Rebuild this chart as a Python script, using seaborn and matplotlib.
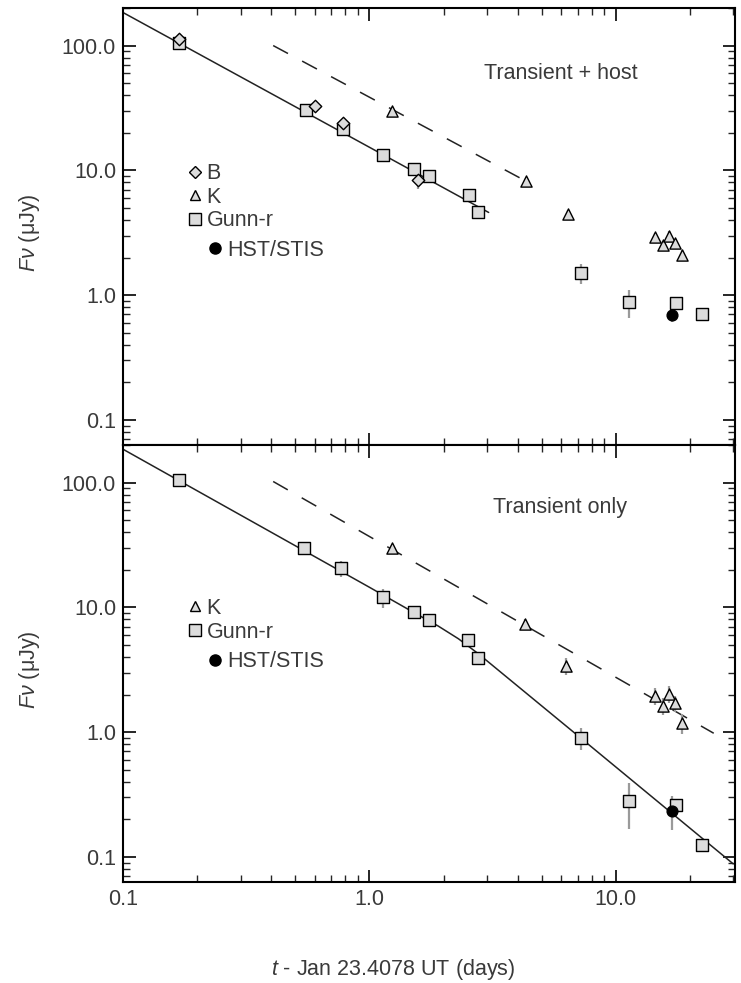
import numpy as np
import pandas as pd
import matplotlib
matplotlib.use("Agg")
import matplotlib.pyplot as plt
from matplotlib.ticker import FixedLocator, FixedFormatter, LogLocator, NullFormatter
from matplotlib.lines import Line2D
import seaborn as sns

sns.set_theme(style="ticks")
plt.rcParams['font.family'] = ['Liberation Sans', 'DejaVu Sans']
plt.rcParams['mathtext.fontset'] = 'custom'
plt.rcParams['mathtext.it'] = 'Liberation Sans:italic'
plt.rcParams['mathtext.rm'] = 'Liberation Sans'

# ---------------- data ----------------
# Top panel: transient + host
top_B_t = [0.169, 0.60, 0.78, 1.58]
top_B_f = [112, 33, 24, 8.3]
top_B_e = [0.06, 0.06, 0.08, 0.15]

top_K_t = [1.24, 4.31, 6.38, 14.4, 15.5, 16.4, 17.4, 18.5]
top_K_f = [30, 8.2, 4.45, 2.9, 2.5, 3.0, 2.6, 2.1]
top_K_e = [0.06, 0.06, 0.08, 0.08, 0.08, 0.08, 0.08, 0.1]

top_r_t = [0.169, 0.555, 0.78, 1.14, 1.52, 1.75, 2.55, 2.77, 7.2, 11.3, 17.5, 22.4]
top_r_f = [105, 30.7, 21.3, 13.2, 10.2, 9.0, 6.4, 4.6, 1.5, 0.88, 0.87, 0.70]
top_r_e = [0.05, 0.08, 0.08, 0.12, 0.08, 0.08, 0.1, 0.06, 0.18, 0.25, 0.1, 0.08]

top_H_t = [16.9]
top_H_f = [0.69]
top_H_e = [0.12]

top_solid_t = [0.1, 3.05]
top_solid_f = [184, 4.6]
top_dash_t = [0.407, 4.27]
top_dash_f = [100, 8.3]

# Bottom panel: transient only
bot_K_t = [1.24, 4.27, 6.3, 14.4, 15.5, 16.4, 17.4, 18.5]
bot_K_f = [30, 7.4, 3.4, 1.95, 1.62, 2.02, 1.7, 1.18]
bot_K_e = [0.06, 0.1, 0.15, 0.15, 0.15, 0.15, 0.15, 0.18]

bot_r_t = [0.169, 0.544, 0.77, 1.14, 1.52, 1.75, 2.52, 2.77, 7.2, 11.3, 17.5, 22.4]
bot_r_f = [104, 30, 20.6, 12, 9.1, 7.9, 5.5, 3.9, 0.9, 0.28, 0.26, 0.125]
bot_r_e = [0.05, 0.1, 0.15, 0.18, 0.08, 0.12, 0.12, 0.08, 0.2, 0.4, 0.12, 0.12]

bot_H_t = [16.9]
bot_H_f = [0.235]
bot_H_e = [0.3]

bot_solid_t = [0.1, 1.0, 1.5, 1.9, 2.3, 2.77, 7.2, 30]
bot_solid_f = [185, 14.5, 9.2, 7.1, 5.6, 4.25, 0.9, 0.088]
bot_dash_t = [0.407, 25]
bot_dash_f = [102, 0.98]

x_ticks = [0.1, 1.0, 10.0]
x_labels = ["0.1", "1.0", "10.0"]
y_ticks = [0.1, 1.0, 10.0, 100.0]
y_labels = ["0.1", "1.0", "10.0", "100.0"]

# ---------------- styling ----------------
TXT = "#3a3a3a"
FACE = "#dcdcdc"
ERR = "#9a9a9a"
FS = 15.5

W, H = 741, 983
fig = plt.figure(figsize=(W / 100, H / 100), dpi=100)
L, R = 123 / W, 735 / W
ax_top = fig.add_axes([L, 1 - 445 / H, R - L, 437 / H])
ax_bot = fig.add_axes([L, 1 - 882 / H, R - L, 437 / H], sharex=ax_top)


def draw_series(ax, t, f, e, marker, ms, face=FACE, z=3):
    f = np.asarray(f, float)
    e = np.asarray(e, float)
    ax.errorbar(t, f, yerr=[f * e, f * e], fmt="none", ecolor=ERR, elinewidth=1.6,
                capsize=0, zorder=z - 1)
    df = pd.DataFrame({"t": t, "f": f})
    sns.scatterplot(data=df, x="t", y="f", ax=ax, marker=marker, s=ms,
                    color=face, edgecolor="black", linewidth=1.0, zorder=z, legend=False)


def draw_line(ax, t, f, style):
    df = pd.DataFrame({"t": t, "f": f})
    sns.lineplot(data=df, x="t", y="f", ax=ax, color="#222222", linewidth=1.1,
                 sort=False, estimator=None, zorder=2)
    ln = ax.lines[-1]
    if style == "dash":
        ln.set_linestyle((0, (11, 10.5)))


# ----- top panel -----
draw_line(ax_top, top_solid_t, top_solid_f, "solid")
draw_line(ax_top, top_dash_t, top_dash_f, "dash")
draw_series(ax_top, top_r_t, top_r_f, top_r_e, "s", 75)
draw_series(ax_top, top_B_t, top_B_f, top_B_e, "D", 40)
draw_series(ax_top, top_K_t, top_K_f, top_K_e, "^", 65)
draw_series(ax_top, top_H_t, top_H_f, top_H_e, "o", 60, face="black")

# ----- bottom panel -----
draw_line(ax_bot, bot_solid_t, bot_solid_f, "solid")
draw_line(ax_bot, bot_dash_t, bot_dash_f, "dash")
draw_series(ax_bot, bot_r_t, bot_r_f, bot_r_e, "s", 75)
draw_series(ax_bot, bot_K_t, bot_K_f, bot_K_e, "^", 65)
draw_series(ax_bot, bot_H_t, bot_H_f, bot_H_e, "o", 60, face="black")

for ax in (ax_top, ax_bot):
    ax.set_xscale("log")
    ax.set_yscale("log")
    ax.set_xlim(0.1, 30.5)
    ax.set_ylim(0.063, 200)
    ax.xaxis.set_major_locator(FixedLocator(x_ticks))
    ax.xaxis.set_major_formatter(FixedFormatter(x_labels))
    ax.yaxis.set_major_locator(FixedLocator(y_ticks))
    ax.yaxis.set_major_formatter(FixedFormatter(y_labels))
    ax.xaxis.set_minor_locator(LogLocator(base=10, subs=np.arange(2, 10)))
    ax.yaxis.set_minor_locator(LogLocator(base=10, subs=np.arange(2, 10)))
    ax.xaxis.set_minor_formatter(NullFormatter())
    ax.yaxis.set_minor_formatter(NullFormatter())
    ax.tick_params(which="major", direction="in", length=9, width=1.4,
                   top=True, right=True, labelsize=FS, labelcolor=TXT, pad=5)
    ax.tick_params(which="minor", direction="in", length=5, width=1.0,
                   top=True, right=True)
    for sp in ax.spines.values():
        sp.set_linewidth(1.5)
        sp.set_color("black")
    ax.set_ylabel(r"$\mathit{F\nu}$ (μJy)", fontsize=FS, color=TXT)
    ax.yaxis.set_label_coords(-0.132, 0.485)
    ax.set_xlabel("")

ax_top.tick_params(labelbottom=False)
ax_bot.set_xlabel(r"$\mathit{t}$ - Jan 23.4078 UT (days)", fontsize=FS, color=TXT)
ax_bot.xaxis.set_label_coords(0.441, -0.172)

ax_top.text(0.716, 0.851, "Transient + host", transform=ax_top.transAxes,
            ha="center", va="center", fontsize=FS, color=TXT)
ax_bot.text(0.714, 0.856, "Transient only", transform=ax_bot.transAxes,
            ha="center", va="center", fontsize=FS, color=TXT)


def handle(marker, ms, face=FACE):
    return Line2D([], [], linestyle="none", marker=marker, markersize=ms,
                  markerfacecolor=face, markeredgecolor="black", markeredgewidth=1.0)


leg_kw = dict(frameon=False, fontsize=FS, labelcolor=TXT, handlelength=0.7,
              handletextpad=0.2, borderpad=0, borderaxespad=0, labelspacing=0.12)

lg1 = ax_top.legend([handle("D", 6), handle("^", 7.5), handle("s", 8.5)],
                    ["B", "K", "Gunn-r"], loc="upper left",
                    bbox_to_anchor=(0.105, 0.645), **leg_kw)
ax_top.add_artist(lg1)
ax_top.legend([handle("o", 8, "black")], ["HST/STIS"], loc="upper left",
              bbox_to_anchor=(0.138, 0.47), **leg_kw)

lg2 = ax_bot.legend([handle("^", 7.5), handle("s", 8.5)], ["K", "Gunn-r"],
                    loc="upper left", bbox_to_anchor=(0.105, 0.65), **leg_kw)
ax_bot.add_artist(lg2)
ax_bot.legend([handle("o", 8, "black")], ["HST/STIS"], loc="upper left",
              bbox_to_anchor=(0.138, 0.528), **leg_kw)

fig.savefig("out.png", dpi=100)
